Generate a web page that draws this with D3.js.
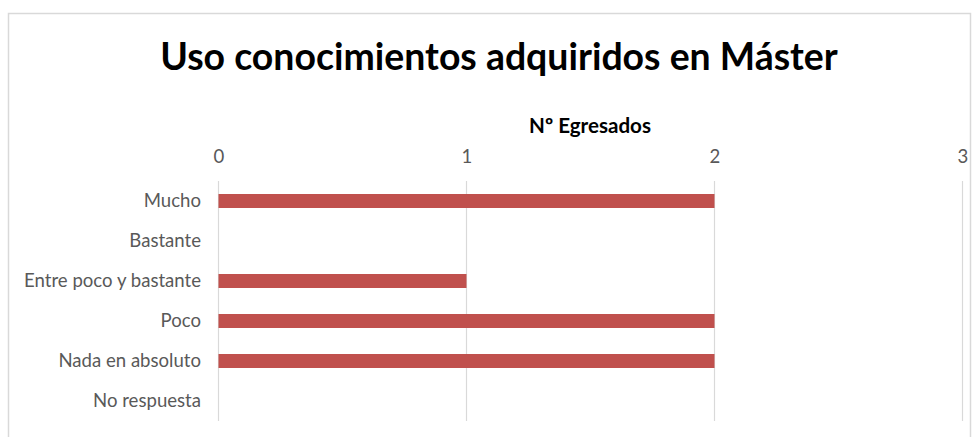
<!DOCTYPE html>
<html><head><meta charset="utf-8">
<script src="https://cdn.jsdelivr.net/npm/d3@7"></script>
<style>body{margin:0;background:#fff}svg{display:block}</style>
</head><body>
<svg id="c" width="980" height="437"></svg>
<script>
const categories = ["Mucho","Bastante","Entre poco y bastante","Poco","Nada en absoluto","No respuesta"];
const values = [2,0,1,2,2,0];
const tickValues = [0,1,2,3];
const title = "Uso conocimientos adquiridos en Máster";
const axisTitle = "Nº Egresados";

const svg = d3.select("#c");
const font = "Lato, 'Open Sans', sans-serif";
svg.append("rect").attr("x",8.5).attr("y",13.5).attr("width",962).attr("height",440)
  .attr("fill","#fff").attr("stroke","#d9d9d9").attr("stroke-width",1.5);

const x = d3.scaleLinear().domain([0,3]).range([218.5,962.5]);
const y = d3.scaleBand().domain(categories).range([181,421]).paddingInner(0.65).paddingOuter(0.325);

function fit(sel, target){
  const w = sel.node().getComputedTextLength();
  const fs = parseFloat(sel.attr("font-size"));
  sel.attr("font-size", fs*target/w);
}

const t = svg.append("text").attr("x",499).attr("y",70).attr("text-anchor","middle")
  .attr("font-family",font).attr("font-weight","bold").attr("font-size",34).attr("fill","#000").text(title);
fit(t,678);

const at = svg.append("text").attr("x",590).attr("y",133).attr("text-anchor","middle")
  .attr("font-family",font).attr("font-weight","bold").attr("font-size",16).attr("fill","#000").text(axisTitle);
fit(at,122);

svg.append("g").selectAll("line").data(tickValues).join("line")
  .attr("x1",d=>x(d)).attr("x2",d=>x(d)).attr("y1",181).attr("y2",421)
  .attr("stroke","#d9d9d9").attr("stroke-width",1.2);

svg.append("g").selectAll("rect").data(categories).join("rect")
  .attr("x",x(0)).attr("y",d=>y(d)).attr("height",y.bandwidth())
  .attr("width",(d,i)=>x(values[i])-x(0)).attr("fill","#C0504D");

const gy = svg.append("g").attr("transform","translate(201,0)").call(d3.axisLeft(y).tickSize(0).tickPadding(0));
gy.select(".domain").remove();
gy.selectAll("text").attr("font-family",font).attr("font-size",16).attr("fill","#595959");
const longest = gy.selectAll("text").filter(d=>d==="Entre poco y bastante");
const w0 = longest.node().getComputedTextLength();
const labelSize = 16*177/w0;
gy.selectAll("text").attr("font-size",labelSize);

const gx = svg.append("g").attr("transform","translate(0,163)")
  .call(d3.axisTop(x).tickValues(tickValues).tickFormat(d3.format("d")).tickSize(0).tickPadding(0));
gx.select(".domain").remove();
gx.selectAll("text").attr("font-family",font).attr("font-size",labelSize).attr("fill","#595959");
</script>
</body></html>
